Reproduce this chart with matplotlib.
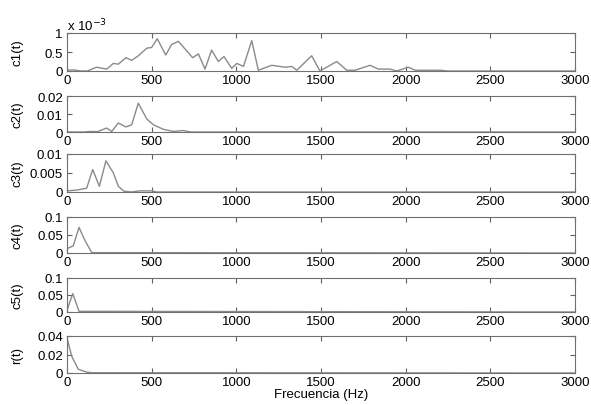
import matplotlib
matplotlib.use('Agg')
import matplotlib.pyplot as plt

plt.rcParams['font.family'] = ['Liberation Sans', 'DejaVu Sans']
plt.rcParams['font.size'] = 9.5

# c1 in units of 1e-3
f1 = [0, 40, 80, 120, 175, 234, 274, 303, 348, 382, 421, 471, 500, 533, 583, 618, 658,
      742, 776, 815, 854, 894, 927, 973, 1003, 1042, 1091, 1130, 1209, 1288, 1327, 1357,
      1445, 1494, 1593, 1652, 1701, 1790, 1839, 1908, 1947, 2016, 2056, 2203, 2250, 3000]
c1 = [0.02, 0.03, 0.0, 0.0, 0.1, 0.05, 0.2, 0.18, 0.35, 0.28, 0.4, 0.6, 0.62, 0.85, 0.42,
      0.7, 0.78, 0.35, 0.45, 0.05, 0.55, 0.25, 0.38, 0.07, 0.2, 0.12, 0.8, 0.02, 0.15, 0.1,
      0.12, 0.02, 0.4, 0.0, 0.25, 0.02, 0.02, 0.15, 0.05, 0.05, 0.0, 0.1, 0.02, 0.02, 0.0, 0.0]

f2 = [0, 100, 136, 180, 234, 264, 303, 348, 382, 421, 471, 510, 569, 628, 687, 730, 3000]
c2 = [0.0, 0.0, 0.0003, 0.0002, 0.0022, 0.0003, 0.005, 0.0028, 0.004, 0.016, 0.0073,
      0.004, 0.0015, 0.0003, 0.0008, 0.0, 0.0]

f3 = [0, 57, 116, 152, 191, 230, 274, 303, 337, 380, 431, 500, 530, 3000]
c3 = [0.0003, 0.0005, 0.001, 0.0059, 0.0015, 0.0082, 0.005, 0.0015, 0.0002, 0.0,
      0.0003, 0.0003, 0.0, 0.0]

f4 = [0, 37, 71, 106, 146, 3000]
c4 = [0.012, 0.02, 0.071, 0.035, 0.001, 0.0]

f5 = [0, 34, 71, 3000]
c5 = [0.005, 0.054, 0.002, 0.0]

f6 = [0, 28, 67, 116, 146, 3000]
r = [0.038, 0.018, 0.004, 0.001, 0.0003, 0.0]

series = [(f1, c1), (f2, c2), (f3, c3), (f4, c4), (f5, c5), (f6, r)]
names = ['c1(t)', 'c2(t)', 'c3(t)', 'c4(t)', 'c5(t)', 'r(t)']
yticks = [[0, 0.5, 1], [0, 0.01, 0.02], [0, 0.005, 0.01],
          [0, 0.05, 0.1], [0, 0.05, 0.1], [0, 0.02, 0.04]]
ytlabels = [['0', '0.5', '1'], ['0', '0.01', '0.02'], ['0', '0.005', '0.01'],
            ['0', '0.05', '0.1'], ['0', '0.05', '0.1'], ['0', '0.02', '0.04']]
xticks = [0, 500, 1000, 1500, 2000, 2500, 3000]

boxes = [(34, 72), (97, 133), (155, 193), (218, 254), (279, 313), (337, 374)]
W, H = 591, 406
left, right = 67, 575

fig = plt.figure(figsize=(W / 100, H / 100), dpi=100)
fig.patch.set_facecolor('white')

for i, ((f, v), name) in enumerate(zip(series, names)):
    top, bot = boxes[i]
    ax = fig.add_axes([left / W, 1 - bot / H, (right - left) / W, (bot - top) / H])
    ax.plot(f, v, color='#8a8a8a', lw=1.0)
    ax.set_xlim(0, 3000)
    ax.set_ylim(yticks[i][0], yticks[i][-1])
    ax.set_xticks(xticks)
    ax.set_xticklabels([str(t) for t in xticks])
    ax.set_yticks(yticks[i])
    ax.set_yticklabels(ytlabels[i])
    ax.tick_params(direction='in', top=True, right=True, length=3.5, width=0.8,
                   color='#606060', labelsize=9.5)
    ax.tick_params(axis='x', pad=2.5)
    ax.tick_params(axis='y', pad=3.0)
    for s in ax.spines.values():
        s.set_color('#707070')
        s.set_linewidth(0.8)
    ax.set_ylabel(name, fontsize=9.5)
    ax.yaxis.set_label_coords((23 - left) / (right - left), 0.5)
    if i == 0:
        ax.text(0, 1.0, 'x 10$^{-3}$', transform=ax.transAxes, fontsize=9.5,
                ha='left', va='bottom')
    if i == len(series) - 1:
        ax.set_xlabel('Frecuencia (Hz)', fontsize=9.5, labelpad=0)

fig.savefig('out.png', dpi=100)
